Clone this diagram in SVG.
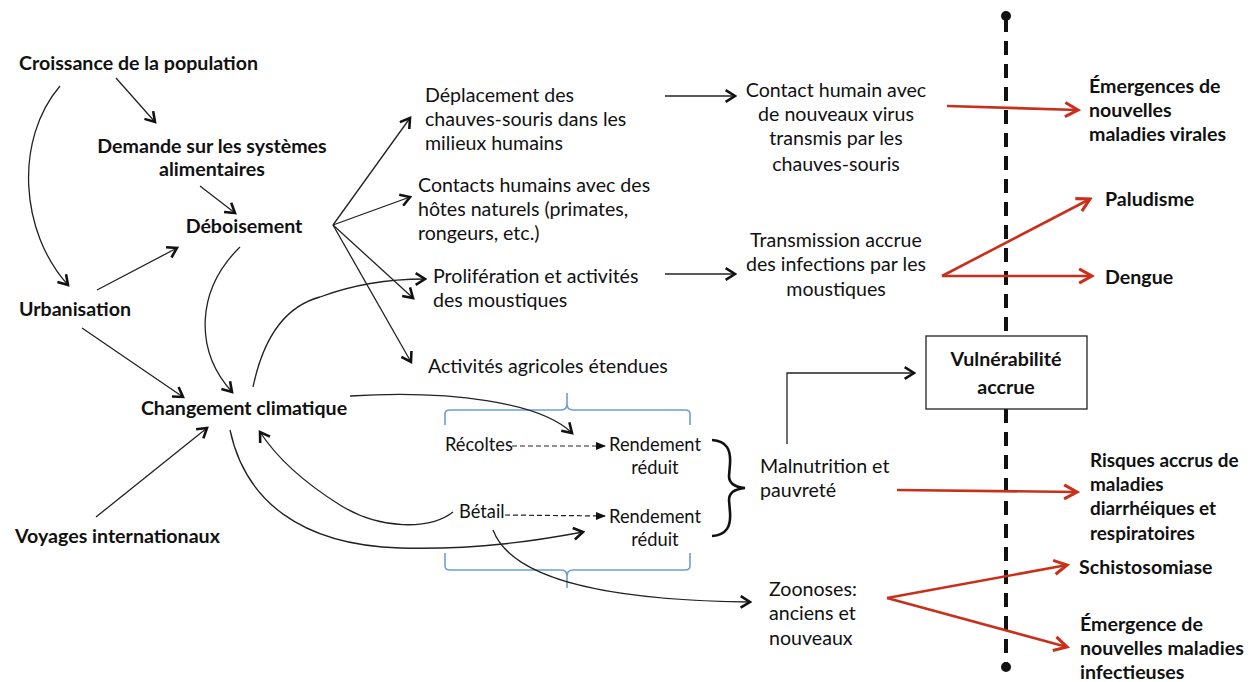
<svg xmlns="http://www.w3.org/2000/svg" width="1257" height="682" viewBox="0 0 1257 682">
<style>
text{font-family:Lato,"Open Sans","Liberation Sans",sans-serif;fill:#111;}
.b{font-weight:bold;font-size:19.6px;}
.r{font-size:19.6px;}
.s{font-size:18.3px;}
.rb{font-weight:bold;font-size:18.9px;}
.c{text-anchor:middle;}
.k{fill:none;stroke:#222;stroke-width:1.3;}
.kd{fill:none;stroke:#222;stroke-width:1.2;stroke-dasharray:5,3;}
.red{fill:none;stroke:#c9301c;stroke-width:2.6;}
.blue{fill:none;stroke:#6d9ed3;stroke-width:1.6;}
</style>
<defs>
<marker id="ah" viewBox="0 0 12 12" refX="10" refY="6" markerWidth="14" markerHeight="14" markerUnits="userSpaceOnUse" orient="auto">
<path d="M2,1 L10,6 L2,11" fill="none" stroke="#111" stroke-width="2.2"/>
</marker>
<marker id="tri" viewBox="0 0 10 10" refX="9" refY="5" markerWidth="10" markerHeight="10" markerUnits="userSpaceOnUse" orient="auto">
<path d="M0,1 L10,5 L0,9 Z" fill="#111"/>
</marker>
<marker id="rh" viewBox="0 0 14 14" refX="12" refY="7" markerWidth="18" markerHeight="18" markerUnits="userSpaceOnUse" orient="auto">
<path d="M2,1.5 L12,7 L2,12.5" fill="none" stroke="#c9301c" stroke-width="2.4"/>
</marker>
</defs>
<rect width="1257" height="682" fill="#fff"/>

<g id="axis">
<line x1="1006" y1="18" x2="1006" y2="665" stroke="#111" stroke-width="4" stroke-dasharray="14,9"/>
<circle cx="1006" cy="16" r="5" fill="#111"/>
<circle cx="1006" cy="667" r="5" fill="#111"/>
</g>

<g id="braces">
<path class="blue" d="M445,425 L445,414 Q445,410 450,410 L561,410 Q567,410 567,404 L567,393 M567,404 Q567,410 573,410 L685,410 Q690,410 690,414 L690,425"/>
<path class="blue" d="M445,553 L445,566 Q445,570 450,570 L561,570 Q567,570 567,576 L567,588 M567,576 Q567,570 573,570 L685,570 Q690,570 690,566 L690,553"/>
<path d="M712,440 C727,441 731,450 730,464 L729,476 C729,483 734,487 745,488 C734,489 729,493 729,500 L730,512 C731,526 727,535 712,536" fill="none" stroke="#111" stroke-width="2.6"/>
</g>

<g id="connectors">
<line class="k" x1="116" y1="78" x2="155" y2="122" marker-end="url(#ah)"/>
<line class="k" x1="200" y1="186" x2="235" y2="213" marker-end="url(#ah)"/>
<path class="k" d="M60,86 C14,140 20,232 68,285" marker-end="url(#ah)"/>
<line class="k" x1="97" y1="290" x2="177" y2="248" marker-end="url(#ah)"/>
<path class="k" d="M240,247 C196,290 194,350 232,392" marker-end="url(#ah)"/>
<line class="k" x1="82" y1="328" x2="183" y2="397" marker-end="url(#ah)"/>
<line class="k" x1="96" y1="517" x2="207" y2="428" marker-end="url(#ah)"/>
<path class="k" d="M253,387 C265,330 290,305 320,297 C360,282 400,279 425,279" marker-end="url(#ah)"/>
<line class="k" x1="333" y1="225" x2="410" y2="118" marker-end="url(#ah)"/>
<line class="k" x1="333" y1="225" x2="410" y2="197" marker-end="url(#ah)"/>
<line class="k" x1="333" y1="225" x2="413" y2="298" marker-end="url(#ah)"/>
<line class="k" x1="333" y1="225" x2="411" y2="362" marker-end="url(#ah)"/>
<path class="k" d="M350,396 C450,390 540,402 572,433" marker-end="url(#ah)"/>
<path class="k" d="M453,512 C430,530 380,530 340,505 C300,480 275,455 260,432" marker-end="url(#ah)"/>
<path class="k" d="M230,430 C245,500 300,545 400,548 C480,550 540,540 583,532" marker-end="url(#ah)"/>
<path class="k" d="M493,530 C510,575 590,600 750,602" marker-end="url(#ah)"/>
<line class="kd" x1="512" y1="446" x2="605" y2="446" marker-end="url(#tri)"/>
<line class="kd" x1="505" y1="515" x2="605" y2="516" marker-end="url(#tri)"/>
<line class="k" x1="665" y1="96" x2="735" y2="96" marker-end="url(#ah)"/>
<line class="k" x1="665" y1="274" x2="735" y2="274" marker-end="url(#ah)"/>
<polyline class="k" points="787,444 787,373 914,373" marker-end="url(#ah)"/>
<line class="red" x1="947" y1="106" x2="1078" y2="110" marker-end="url(#rh)"/>
<line class="red" x1="942" y1="276" x2="1090" y2="199" marker-end="url(#rh)"/>
<line class="red" x1="942" y1="276" x2="1092" y2="276" marker-end="url(#rh)"/>
<line class="red" x1="897" y1="490" x2="1077" y2="492" marker-end="url(#rh)"/>
<line class="red" x1="887" y1="598" x2="1067" y2="565" marker-end="url(#rh)"/>
<line class="red" x1="887" y1="598" x2="1067" y2="647" marker-end="url(#rh)"/>
</g>

<g id="n-croissance"><text class="b" x="19" y="70">Croissance de la population</text></g>
<g id="n-demande"><text class="b c" x="212" y="153">Demande sur les systèmes</text><text class="b c" x="212" y="176">alimentaires</text></g>
<g id="n-deboisement"><text class="b c" x="244" y="233">Déboisement</text></g>
<g id="n-urbanisation"><text class="b" x="19" y="316">Urbanisation</text></g>
<g id="n-changement"><text class="b c" x="244" y="415">Changement climatique</text></g>
<g id="n-voyages"><text class="b" x="15" y="543">Voyages internationaux</text></g>

<g id="n-deplacement"><text class="r" x="425" y="102">Déplacement des</text><text class="r" x="425" y="126">chauves-souris dans les</text><text class="r" x="425" y="150">milieux humains</text></g>
<g id="n-contacts"><text class="r" x="418" y="192">Contacts humains avec des</text><text class="r" x="418" y="216">hôtes naturels (primates,</text><text class="r" x="418" y="240">rongeurs, etc.)</text></g>
<g id="n-proliferation"><text class="r" x="433" y="283">Prolifération et activités</text><text class="r" x="433" y="307">des moustiques</text></g>
<g id="n-activites"><text class="r" x="428" y="373">Activités agricoles étendues</text></g>
<g id="n-contact-virus"><text class="r c" x="836" y="97">Contact humain avec</text><text class="r c" x="836" y="121">de nouveaux virus</text><text class="r c" x="836" y="145">transmis par les</text><text class="r c" x="836" y="171">chauves-souris</text></g>
<g id="n-transmission"><text class="r c" x="836" y="247">Transmission accrue</text><text class="r c" x="836" y="271">des infections par les</text><text class="r c" x="836" y="296">moustiques</text></g>
<g id="n-recoltes"><text class="s" x="445" y="451">Récoltes</text></g>
<g id="n-rendement1"><text class="s c" x="655" y="451">Rendement</text><text class="s c" x="655" y="474">réduit</text></g>
<g id="n-betail"><text class="s" x="459" y="518">Bétail</text></g>
<g id="n-rendement2"><text class="s c" x="655" y="523">Rendement</text><text class="s c" x="655" y="546">réduit</text></g>
<g id="n-malnutrition"><text class="r" x="760" y="473">Malnutrition et</text><text class="r" x="760" y="497">pauvreté</text></g>
<g id="n-zoonoses"><text class="r" x="769" y="596">Zoonoses:</text><text class="r" x="769" y="620">anciens et</text><text class="r" x="769" y="645">nouveaux</text></g>

<g id="n-vulnerabilite"><rect x="926" y="336" width="161" height="73" fill="#fff" stroke="#222" stroke-width="1.3"/><text class="b c" x="1006" y="366">Vulnérabilité</text><text class="b c" x="1006" y="394">accrue</text></g>
<g id="n-emergences"><text class="b" x="1089" y="93">Émergences de</text><text class="b" x="1089" y="117">nouvelles</text><text class="b" x="1089" y="141">maladies virales</text></g>
<g id="n-paludisme"><text class="b" x="1105" y="206">Paludisme</text></g>
<g id="n-dengue"><text class="b" x="1105" y="284">Dengue</text></g>
<g id="n-risques"><text class="rb" x="1090" y="467">Risques accrus de</text><text class="rb" x="1090" y="491">maladies</text><text class="rb" x="1090" y="515">diarrhéiques et</text><text class="rb" x="1090" y="540">respiratoires</text></g>
<g id="n-schisto"><text class="b" x="1079" y="574">Schistosomiase</text></g>
<g id="n-emergence"><text class="b" x="1080" y="631">Émergence de</text><text class="b" x="1080" y="655">nouvelles maladies</text><text class="b" x="1080" y="679">infectieuses</text></g>
</svg>
